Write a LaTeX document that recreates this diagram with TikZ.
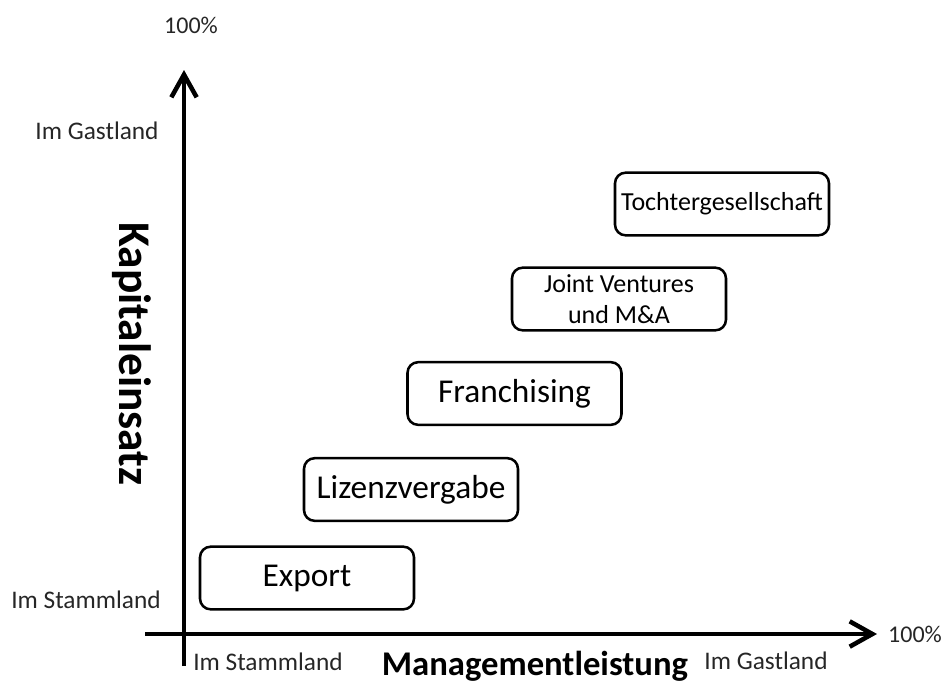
\documentclass[tikz,border=0pt]{standalone}
\usepackage{fontspec}
\setmainfont{Carlito}
\usetikzlibrary{arrows.meta}
\begin{document}
\begin{tikzpicture}[x=0.75pt,y=-0.75pt,
  axis/.style={line width=3.6pt,-{Straight Barb[length=17pt,width=19pt,line width=3.4pt]}},
  stage/.style={draw,line width=1.9pt,rounded corners=8pt,minimum width=160.5pt,minimum height=47pt,inner sep=0pt,align=center},
  big/.style={font=\fontsize{25}{28}\selectfont},
  small/.style={font=\fontsize{19.5}{23.3}\selectfont},
  lbl/.style={font=\fontsize{19}{22}\selectfont,inner sep=0pt,text=black!85},
]
\useasboundingbox (0,0) rectangle (946,682);
% axes
\coordinate (ybot) at (184,666);
\coordinate (ytop) at (184,70);
\coordinate (xleft) at (145,634);
\coordinate (xright) at (877,634);
\draw[axis] (ybot) -- (ytop);
\draw[axis] (xleft) -- (xright);
% axis labels
\node[lbl,font=\fontsize{18}{21}\selectfont] (ytopval) at (191,25) {100\%};
\node[lbl,font=\fontsize{18}{21}\selectfont] (xtopval) at (915,634) {100\%};
\node[lbl] (yhost) at (97,131) {Im Gastland};
\node[lbl] (yhome) at (86,600) {Im Stammland};
\node[lbl] (xhome) at (268,662) {Im Stammland};
\node[lbl] (xhost) at (766,661) {Im Gastland};
\node[font=\fontsize{34}{37}\bfseries\selectfont,rotate=-90,inner sep=0pt] (ytitle) at (132,354) {Kapitaleinsatz};
\node[font=\fontsize{26}{30}\bfseries\selectfont,inner sep=0pt] (xtitle) at (535,666) {Managementleistung};
% market entry forms
\node[stage,big] (export) at (307,578) {Export};
\node[stage,big] (lizenz) at (411,489.5) {Lizenzvergabe};
\node[stage,big] (franch) at (514.5,393.5) {Franchising};
\node[stage,small] (joint) at (619,299) {Joint Ventures\\und M\&A};
\node[stage,small] (tochter) at (722,204) {Tochtergesellschaft};
\end{tikzpicture}
\end{document}
